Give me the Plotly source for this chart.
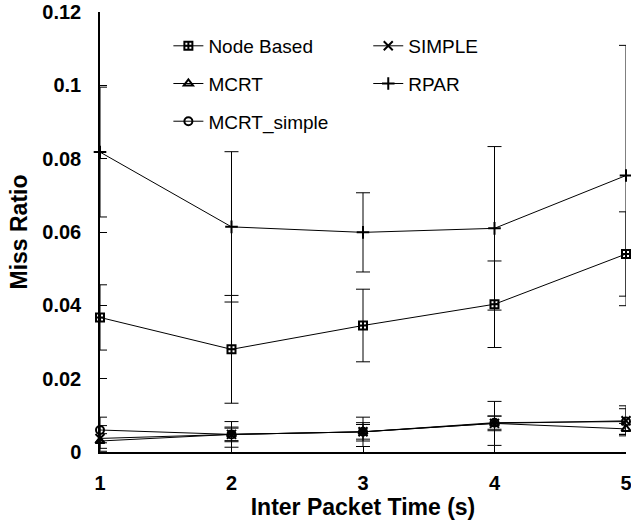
import plotly.graph_objects as go

x_vals = [1, 2, 3, 4, 5]

node_based = [0.0367, 0.0280, 0.0345, 0.0403, 0.0540]
node_based_err = [0.0089, 0.0147, 0.0099, 0.0118, 0.0115]

simple = [0.0037, 0.0048, 0.0055, 0.0078, 0.0085]
simple_err = [0.0035, 0.0035, 0.0040, 0.0060, 0.0041]

mcrt = [0.0030, 0.0048, 0.0055, 0.0078, 0.0063]
mcrt_err = [0.0020, 0.0017, 0.0020, 0.0020, 0.0015]

rpar = [0.0818, 0.0614, 0.0599, 0.0610, 0.0754]
rpar_err = [0.0177, 0.0205, 0.0108, 0.0223, 0.0355]

mcrt_simple = [0.0060, 0.0048, 0.0055, 0.0080, 0.0083]
mcrt_simple_err = [0.0035, 0.0020, 0.0025, 0.0018, 0.0035]

y_ticks = [0, 0.02, 0.04, 0.06, 0.08, 0.1, 0.12]
y_tick_text = ["0", "0.02", "0.04", "0.06", "0.08", "0.1", "0.12"]

FONT = "Liberation Sans, Arial, sans-serif"

series = [
    ("Node Based", node_based, node_based_err, "square-cross-open", 8, "legend", "g1"),
    ("SIMPLE", simple, simple_err, "x-thin-open", 9, "legend2", "g2"),
    ("MCRT", mcrt, mcrt_err, "triangle-up-open", 8, "legend", "g3"),
    ("RPAR", rpar, rpar_err, "cross-thin-open", 9, "legend2", "g4"),
    ("MCRT_simple", mcrt_simple, mcrt_simple_err, "circle-open", 8, "legend", "g5"),
]

fig = go.Figure()
for name, ys, errs, sym, size, leg, grp in series:
    fig.add_trace(go.Scatter(
        x=x_vals, y=ys, name=name, mode="lines+markers",
        line=dict(color="black", width=1),
        marker=dict(symbol=sym, size=size, color="black",
                    line=dict(color="black", width=2)),
        error_y=dict(type="data", array=errs, visible=True,
                     color="black", thickness=1, width=7),
        legend=leg, legendgroup=grp,
        cliponaxis=False,
    ))

fig.update_layout(
    width=631, height=531,
    margin=dict(l=100, r=5, t=12, b=79, autoexpand=False),
    paper_bgcolor="white", plot_bgcolor="white",
    font=dict(family=FONT, color="black"),
    legend=dict(x=0.13, y=0.966, xanchor="left", yanchor="top",
                font=dict(family=FONT, size=19, color="black"),
                bgcolor="rgba(0,0,0,0)", tracegroupgap=10),
    legend2=dict(x=0.51, y=0.966, xanchor="left", yanchor="top",
                 font=dict(family=FONT, size=19, color="black"),
                 bgcolor="rgba(0,0,0,0)", tracegroupgap=10),
    xaxis=dict(
        range=[1, 5], tickvals=x_vals, ticktext=[str(v) for v in x_vals],
        showline=True, linecolor="black", linewidth=1.5,
        showgrid=False, zeroline=False, mirror=False, automargin=False,
        ticks="inside", ticklen=6, tickcolor="black", ticklabelstandoff=12,
        ticklabeloverflow="allow",
        tickfont=dict(family=FONT, size=20, color="black", weight="bold"),
        title=dict(text="<b>Inter Packet Time (s)</b>",
                   font=dict(family=FONT, size=23, color="black"), standoff=2),
    ),
    yaxis=dict(
        range=[0, 0.12], tickvals=y_ticks, ticktext=y_tick_text,
        showline=True, linecolor="black", linewidth=1.5,
        showgrid=False, zeroline=False, mirror=False, automargin=False,
        ticks="inside", ticklen=7, tickcolor="black", ticklabelstandoff=13,
        ticklabeloverflow="allow",
        tickfont=dict(family=FONT, size=20, color="black", weight="bold"),
        title=dict(text="<b>Miss Ratio</b>",
                   font=dict(family=FONT, size=23, color="black"), standoff=8),
    ),
)

fig.write_html("out.html")
